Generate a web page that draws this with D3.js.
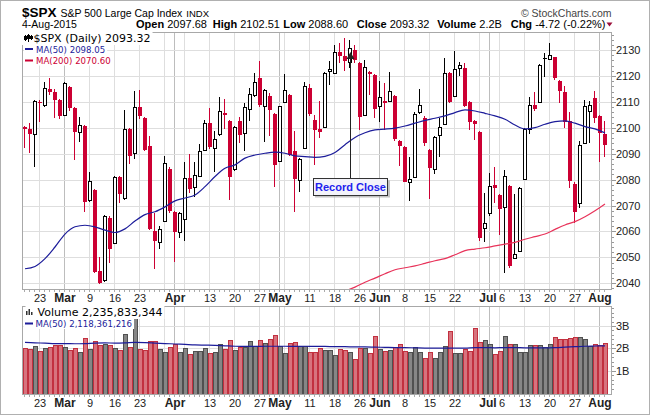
<!DOCTYPE html>
<html><head><meta charset="utf-8">
<script src="https://cdn.jsdelivr.net/npm/d3@7"></script>
<style>body{margin:0;background:#fff}svg{display:block}</style>
</head><body>
<svg id="c" width="650" height="415"></svg>
<script>
// ---------------- DATA ----------------
const openP  = [2100.2,2099.4,2097.5,2110.0,2108.9,2114.9,2114.0,2110.8,2105.0,2115.9,2107.6,2098.3,2100.8,2072.2,2076.1,2044.9,2041.3,2065.1,2055.4,2081.1,2072.8,2099.6,2090.2,2108.0,2103.7,2093.0,2060.0,2055.9,2063.9,2084.0,2067.6,2059.9,2064.7,2080.5,2077.0,2081.5,2091.5,2101.8,2092.1,2097.7,2105.6,2102.8,2084.0,2102.8,2098.2,2107.2,2112.5,2119.1,2108.5,2112.3,2105.4,2087.2,2109.9,2112.7,2091.1,2079.9,2092.1,2115.3,2102.9,2099.6,2100.2,2121.8,2121.1,2129.4,2127.8,2125.3,2130.1,2125.2,2105.0,2121.7,2120.4,2108.5,2110.5,2110.4,2112.3,2094.9,2092.5,2079.0,2080.9,2106.0,2103.7,2091.5,2084.0,2097.3,2101.5,2121.1,2112.3,2123.0,2123.0,2110.1,2102.8,2098.3,2061.2,2067.0,2078.0,2074.1,2069.3,2077.6,2049.7,2052.6,2080.2,2099.4,2108.8,2110.1,2126.8,2126.5,2127.2,2118.2,2114.0,2102.8,2078.4,2070.9,2094.3,2106.5,2111.4,2104.6,2097.68];
const highP  = [2100.9,2101.8,2110.7,2110.9,2117.8,2119.1,2115.0,2111.0,2117.7,2116.3,2108.0,2104.1,2101.2,2083.1,2076.5,2050.3,2066.4,2066.0,2081.5,2081.3,2106.9,2099.8,2114.2,2114.6,2104.0,2096.9,2067.0,2062.0,2089.1,2085.0,2068.0,2067.5,2086.7,2089.9,2086.7,2093.6,2103.1,2107.6,2098.6,2111.8,2111.2,2103.0,2100.8,2104.0,2109.7,2115.3,2121.1,2125.8,2115.0,2113.6,2105.6,2108.5,2120.8,2113.0,2098.6,2088.5,2117.6,2117.0,2105.1,2110.2,2121.5,2125.8,2131.8,2132.9,2134.6,2133.9,2132.0,2125.4,2126.2,2122.0,2120.6,2117.9,2117.3,2121.7,2112.6,2095.2,2093.0,2088.9,2106.0,2114.9,2104.5,2091.8,2097.0,2103.7,2126.8,2121.5,2129.8,2125.4,2125.0,2110.4,2103.0,2098.6,2074.7,2082.7,2085.0,2074.5,2083.7,2077.8,2074.3,2077.0,2099.8,2112.1,2114.0,2124.5,2128.9,2132.9,2127.5,2118.5,2116.0,2106.0,2079.0,2095.0,2110.8,2110.5,2114.4,2105.0,2102.51];
const lowP   = [2092.2,2090.4,2085.0,2102.4,2108.0,2112.5,2103.7,2103.5,2104.5,2106.5,2087.6,2094.7,2067.6,2071.5,2044.0,2039.6,2040.5,2047.7,2055.0,2071.0,2072.0,2086.0,2088.0,2103.5,2091.0,2060.5,2045.4,2053.1,2063.5,2067.0,2048.4,2057.4,2056.5,2075.0,2073.4,2081.0,2091.0,2091.8,2083.1,2097.0,2099.7,2072.2,2083.5,2094.0,2091.0,2102.8,2112.0,2108.0,2094.7,2096.9,2077.3,2087.0,2109.5,2089.0,2067.6,2075.1,2092.0,2104.5,2085.6,2096.0,2100.0,2116.5,2120.6,2125.0,2122.0,2123.0,2125.0,2099.2,2104.5,2112.5,2103.7,2102.4,2099.2,2110.0,2095.0,2085.3,2079.0,2071.8,2080.5,2105.5,2093.0,2072.5,2082.2,2088.9,2101.0,2109.5,2112.0,2119.9,2108.0,2099.0,2095.3,2056.5,2056.1,2066.0,2071.0,2058.6,2044.1,2046.0,2049.5,2052.0,2080.0,2097.6,2106.5,2110.0,2119.5,2126.0,2118.5,2109.7,2100.0,2076.7,2063.4,2069.0,2094.0,2094.1,2102.0,2087.0,2088.60];
const closeP = [2099.68,2097.45,2110.30,2109.66,2115.48,2113.86,2110.74,2104.50,2117.39,2107.78,2098.53,2101.04,2071.26,2079.43,2044.16,2040.24,2065.95,2053.40,2081.19,2074.28,2099.50,2089.27,2108.10,2104.42,2091.50,2061.05,2056.15,2061.02,2086.24,2067.89,2059.69,2066.96,2080.62,2076.33,2081.90,2091.18,2102.06,2092.43,2095.84,2106.63,2104.99,2081.18,2100.40,2097.29,2107.96,2112.93,2117.69,2108.92,2114.76,2106.85,2085.51,2108.29,2114.49,2089.46,2080.15,2088.00,2116.10,2105.33,2099.12,2098.48,2121.10,2122.73,2129.20,2127.83,2125.85,2130.82,2126.06,2104.20,2123.48,2120.79,2107.39,2111.73,2109.60,2114.07,2095.84,2092.83,2079.28,2080.15,2105.20,2108.86,2094.11,2084.43,2096.29,2100.44,2121.24,2109.99,2122.85,2124.20,2108.58,2102.31,2101.49,2057.64,2063.11,2077.42,2076.78,2068.76,2081.34,2046.68,2051.31,2076.62,2099.60,2108.95,2107.40,2124.29,2126.64,2128.28,2119.21,2114.15,2102.15,2079.65,2067.64,2093.25,2108.57,2108.63,2103.84,2098.04,2093.32];
const prevCloseBefore = 2100.34;
// volume, billions of shares
const volume = [2.01,1.98,2.11,1.89,2.02,2.07,2.16,2.16,2.07,1.93,2.01,1.84,2.47,1.98,2.33,2.16,2.22,2.14,2.02,1.93,2.64,2.07,3.37,1.98,1.93,2.32,2.32,1.98,1.83,2.07,2.20,1.83,2.01,1.74,1.89,1.89,2.01,1.80,1.83,2.19,1.98,2.38,1.93,2.08,2.07,2.33,2.11,2.38,2.24,2.44,2.60,2.13,1.79,2.23,2.27,2.11,2.11,1.84,1.84,2.01,1.92,1.92,1.70,1.96,1.92,1.83,1.53,2.04,2.02,1.79,2.56,1.96,1.89,1.92,2.08,2.21,1.89,1.86,2.05,1.83,1.58,1.83,1.58,1.83,2.10,2.76,1.79,1.79,1.96,1.89,2.91,2.27,2.38,2.19,1.74,1.90,2.56,2.20,2.20,1.83,1.83,2.14,2.16,2.16,2.05,2.20,2.50,2.43,2.43,2.48,2.50,2.53,2.40,2.10,2.20,2.16,2.236];
// moving averages read at every second session (index 0,2,4,...)
const ma50 = [2045.6,2046.5,2049.5,2054.0,2059.0,2061.8,2062.4,2061.8,2060.5,2059.6,2061.0,2064.0,2066.5,2067.6,2069.5,2071.8,2072.9,2074.1,2077.3,2081.2,2084.4,2085.7,2088.3,2089.5,2090.2,2090.6,2090.2,2089.2,2088.9,2088.6,2089.0,2090.5,2093.5,2096.3,2098.1,2099.2,2099.5,2099.9,2100.7,2101.8,2102.9,2103.7,2104.6,2105.9,2106.9,2106.5,2105.6,2104.6,2103.3,2101.1,2099.6,2100.1,2101.4,2102.4,2102.7,2101.8,2100.5,2099.6,2098.05];
const ma200Start = 64;
const ma200 = [2037.0,2038.5,2040.4,2042.0,2043.7,2045.2,2046.0,2046.7,2047.7,2048.7,2049.5,2051.0,2052.6,2053.2,2053.7,2054.4,2055.1,2055.8,2057.0,2058.0,2059.0,2060.8,2062.5,2063.8,2065.7,2068.0,2070.6];
const volMa50 = [2.27,2.25,2.24,2.22,2.22,2.21,2.22,2.24,2.25,2.24,2.25,2.27,2.26,2.24,2.22,2.20,2.18,2.16,2.15,2.14,2.12,2.10,2.09,2.09,2.10,2.10,2.10,2.09,2.10,2.09,2.09,2.08,2.08,2.07,2.07,2.06,2.05,2.04,2.04,2.03,2.02,2.02,2.02,2.02,2.02,2.04,2.04,2.03,2.04,2.04,2.03,2.03,2.03,2.04,2.06,2.08,2.10,2.11,2.118];
const volumeLastText = "2,235,833,344";
const volMaLastText = "2,118,361,216";
// x axis
const xTickIndex = [3,8,13,18,23,30,37,42,47,51,57,62,67,71,76,81,86,93,95,100,105,110,115];
const xTickLabel = ["23","Mar","9","16","23","Apr","13","20","27","May","11","18","26","Jun","8","15","22","Jul","6","13","20","27","Aug"];
const monthIndex = [8,30,51,71,93,115];
const extraGridIndex = [28,32,52,91];
const priceTicks = [2040,2050,2060,2070,2080,2090,2100,2110,2120,2130];
const volTicks = [1,2,3];
const volTickLabel = ["1B","2B","3B"];
const recordIndex = 65;

// ---------------- CHART ----------------
const svg = d3.select("#c");
const L = 22, R = 612, pT = 32, pB = 290, vT = 306, vB = 395;
const n = closeP.length;
const x = d3.scaleLinear().domain([0, n - 1]).range([25, 25 + 5 * (n - 1)]);
const y = d3.scaleLinear().domain([2037.4, 2137.0]).range([pB, pT]);
const yv = d3.scaleLinear().domain([-0.067, 3.889]).range([vB, vT]);
const RED = "#cc0033", NAVY = "#1c1c9a", FONT = "'Liberation Sans', Arial, sans-serif", LF = "'DejaVu Sans', Verdana, sans-serif";

svg.append("rect").attr("width", 650).attr("height", 415).attr("fill", "#fff");

const defs = svg.append("defs");
defs.append("clipPath").attr("id", "cp").append("rect").attr("x", L).attr("y", pT).attr("width", R - L).attr("height", pB - pT);
defs.append("clipPath").attr("id", "cv").append("rect").attr("x", L).attr("y", vT).attr("width", R - L).attr("height", vB - vT);

// gridlines
const gridIdx = xTickIndex.concat(extraGridIndex);
function vgrid(top, bot) {
  svg.append("g").selectAll("line").data(gridIdx).join("line")
    .attr("x1", d => x(d) - 0.5).attr("x2", d => x(d) - 0.5).attr("y1", top).attr("y2", bot)
    .attr("stroke", d => monthIndex.includes(d) ? "#bdbdbd" : "#dedede").attr("stroke-width", 1);
}
vgrid(pT, pB); vgrid(vT, vB);
svg.append("g").selectAll("line").data(priceTicks).join("line")
  .attr("x1", L).attr("x2", R).attr("y1", d => Math.round(y(d)) + 0.5).attr("y2", d => Math.round(y(d)) + 0.5)
  .attr("stroke", "#dedede");
svg.append("g").selectAll("line").data(volTicks).join("line")
  .attr("x1", L).attr("x2", R).attr("y1", d => Math.round(yv(d)) + 0.5).attr("y2", d => Math.round(yv(d)) + 0.5)
  .attr("stroke", "#dedede");

// candles
const up = closeP.map((c, i) => c >= (i === 0 ? prevCloseBefore : closeP[i - 1]));
const cg = svg.append("g").attr("clip-path", "url(#cp)").attr("shape-rendering", "crispEdges");
closeP.forEach((c, i) => {
  const cx = x(i), col = up[i] ? "#000" : RED;
  const o = openP[i];
  const yH = Math.round(y(highP[i])), yL = Math.round(y(lowP[i]));
  cg.append("rect").attr("x", cx - 1).attr("y", yH).attr("width", 1).attr("height", Math.max(1, yL - yH)).attr("fill", col);
  const yT = Math.round(y(Math.max(o, c))), yBt = Math.round(y(Math.min(o, c)));
  const h = Math.max(1, yBt - yT);
  if (c > o) {
    cg.append("rect").attr("x", cx - 2).attr("y", yT).attr("width", 4).attr("height", h + 1).attr("fill", col);
    if (h > 1) cg.append("rect").attr("x", cx - 1).attr("y", yT + 1).attr("width", 2).attr("height", h - 1).attr("fill", "#fff");
  } else {
    cg.append("rect").attr("x", cx - 2).attr("y", yT).attr("width", 4).attr("height", h).attr("fill", col);
  }
});

// moving averages
const line = d3.line().curve(d3.curveMonotoneX);
const mg = svg.append("g").attr("clip-path", "url(#cp)").attr("fill", "none");
mg.append("path").attr("d", line(ma200.map((v, k) => [x(ma200Start + 2 * k), y(v)])))
  .attr("stroke", "#e8335a").attr("stroke-width", 1.2);
mg.append("path").attr("d", line(ma50.map((v, k) => [x(2 * k), y(v)])))
  .attr("stroke", NAVY).attr("stroke-width", 1.2);

// volume bars
const vg = svg.append("g").attr("clip-path", "url(#cv)").attr("shape-rendering", "crispEdges");
volume.forEach((v, i) => {
  const cx = x(i), t = Math.round(yv(v));
  vg.append("rect").attr("x", cx - 2).attr("y", t).attr("width", 5).attr("height", vB - t).attr("fill", up[i] ? "#505050" : "#c2303f");
  vg.append("rect").attr("x", cx - 1).attr("y", t + 1).attr("width", 3).attr("height", vB - t - 1).attr("fill", up[i] ? "#868686" : "#d7737e");
});
svg.append("path").attr("clip-path", "url(#cv)").attr("fill", "none")
  .attr("d", line(volMa50.map((v, k) => [x(2 * k), yv(v)])))
  .attr("stroke", NAVY).attr("stroke-width", 1.2);

// frames
[[pT, pB], [vT, vB]].forEach(([t, b]) => {
  svg.append("rect").attr("x", L + 0.5).attr("y", t + 0.5).attr("width", R - L - 1).attr("height", b - t - 1)
    .attr("fill", "none").attr("stroke", "#a8a8a8");
});

// right axes
const ra = svg.append("g").attr("transform", `translate(${R},0)`);
d3.range(2038, 2137, 2).forEach(v => {
  const yy = Math.round(y(v)) + 0.5;
  ra.append("line").attr("x1", 0).attr("x2", v % 10 === 0 ? 4 : 2).attr("y1", yy).attr("y2", yy).attr("stroke", "#999");
});
ra.selectAll("text.p").data(priceTicks).join("text").attr("class", "p")
  .attr("x", 4).attr("y", d => y(d) + 4).text(d => d)
  .attr("font-family", FONT).attr("font-size", 11).attr("fill", "#222");
d3.range(0.2, 3.9, 0.2).forEach(v => {
  const yy = Math.round(yv(v)) + 0.5;
  ra.append("line").attr("x1", 0).attr("x2", Math.abs(v - Math.round(v)) < 0.01 ? 4 : 2).attr("y1", yy).attr("y2", yy).attr("stroke", "#999");
});
ra.selectAll("text.v").data(volTicks).join("text").attr("class", "v")
  .attr("x", 4).attr("y", d => yv(d) + 4).text((d, k) => volTickLabel[k])
  .attr("font-family", FONT).attr("font-size", 11).attr("fill", "#222");

// x axes (between panels and at bottom)
const nudge = { 93: -2, 95: 2 };
[302, 407].forEach(by => {
  const g = svg.append("g");
  g.selectAll("line").data(d3.range(n)).join("line")
    .attr("x1", d => x(d) - 0.5).attr("x2", d => x(d) - 0.5)
    .attr("y1", by === 302 ? pB : vB).attr("y2", (by === 302 ? pB : vB) + 2).attr("stroke", "#aaa");
  g.selectAll("text").data(xTickIndex).join("text")
    .attr("x", d => x(d) + (nudge[d] || 0)).attr("y", by).attr("text-anchor", "middle")
    .attr("font-family", FONT)
    .attr("font-size", d => monthIndex.includes(d) ? 12 : 11)
    .attr("font-weight", d => monthIndex.includes(d) ? "bold" : "normal")
    .attr("fill", "#222")
    .text((d, k) => xTickLabel[k]);
});

// header
const hd = svg.append("g").attr("font-family", FONT).attr("fill", "#000");
const t1 = hd.append("text").attr("x", 22).attr("y", 16.5);
t1.append("tspan").attr("font-weight", "bold").attr("font-size", 13.5).text("$SPX");
t1.append("tspan").attr("font-size", 10.5).attr("dx", 4).text("S&P 500 Large Cap Index");
t1.append("tspan").attr("font-size", 9.5).attr("dx", 4).text("INDX");
hd.append("text").attr("x", 22).attr("y", 28).attr("font-size", 10.5).text("4-Aug-2015");
const last = n - 1;
const hdItems = [["Open", openP[last].toFixed(2), 136], ["High", highP[last].toFixed(2), 212.7], ["Low", lowP[last].toFixed(2), 283.3],
  ["Close", closeP[last].toFixed(2), 356.7], ["Volume", (volume[last]).toFixed(1) + "B", 437.3],
  ["Chg", (closeP[last] - closeP[last - 1]).toFixed(2) + " (" + ((closeP[last] / closeP[last - 1] - 1) * 100).toFixed(2) + "%)", 510.7]];
hdItems.forEach(([lab, val, xx]) => {
  const t = hd.append("text").attr("x", xx).attr("y", 28).attr("font-size", 11);
  t.append("tspan").attr("font-weight", "bold").text(lab);
  t.append("tspan").text(" " + val);
});
hd.append("path").attr("d", "M606.5,22.5 L612.5,22.5 L609.5,26.5 Z").attr("fill", "#9b0f3a");
hd.append("text").attr("x", 611.5).attr("y", 16.5).attr("text-anchor", "end").attr("font-size", 10.5).attr("fill", "#444").text("© StockCharts.com");

// legends
function legendRow(g, xx, yy, txt, size, color) {
  const t = g.append("text").attr("x", xx).attr("y", yy).attr("font-family", LF).attr("font-size", size).attr("fill", color).text(txt);
  const bb = t.node().getBBox();
  g.insert("rect", "text").attr("x", bb.x - 12).attr("y", bb.y).attr("width", bb.width + 14).attr("height", bb.height).attr("fill", "#fff");
  return t;
}
const lg = svg.append("g");
legendRow(lg, 33.5, 42, "$SPX (Daily) " + closeP[last].toFixed(2), 11, "#000");
legendRow(lg, 36, 52.5, "MA(50) " + ma50[ma50.length - 1].toFixed(2), 8.6, NAVY);
legendRow(lg, 36, 63.5, "MA(200) " + ma200[ma200.length - 1].toFixed(2), 8.6, RED);
const ic = lg.append("g").attr("shape-rendering", "crispEdges");
[[25, 35, 41, 36, 40], [28, 34, 42, 35, 39], [31, 35, 40, 36, 39]].forEach(([cx, a, b, c, d]) => {
  ic.append("rect").attr("x", cx).attr("y", a).attr("width", 1).attr("height", b - a).attr("fill", "#000");
  ic.append("rect").attr("x", cx - 1).attr("y", c).attr("width", 3).attr("height", d - c).attr("fill", "#000");
});
lg.append("rect").attr("x", 25).attr("y", 48).attr("width", 8).attr("height", 2).attr("fill", NAVY);
lg.append("rect").attr("x", 25).attr("y", 59.5).attr("width", 8).attr("height", 2).attr("fill", RED);

const vlg = svg.append("g");
legendRow(vlg, 37.5, 316, "Volume " + volumeLastText, 11, "#000");
legendRow(vlg, 35.5, 327, "MA(50) " + volMaLastText, 8.6, NAVY);
[[26, 311, 315], [28.5, 309, 315], [31, 312, 315]].forEach(([xx, a, b]) =>
  vlg.append("rect").attr("x", xx).attr("y", a).attr("width", 1.5).attr("height", b - a).attr("fill", "#333"));
vlg.append("rect").attr("x", 25).attr("y", 322.5).attr("width", 8).attr("height", 2).attr("fill", NAVY);

// record close annotation
const ax = x(recordIndex) + 0.5, ay = y(highP[recordIndex]) + 12;
const an = svg.append("g");
an.append("line").attr("x1", ax).attr("x2", ax).attr("y1", ay + 6).attr("y2", 178).attr("stroke", "#222").attr("stroke-width", 1);
an.append("path").attr("d", `M${ax},${ay} L${ax - 4},${ay + 7} L${ax + 4},${ay + 7} Z`).attr("fill", "#222");
an.append("rect").attr("x", 315).attr("y", 180.5).attr("width", 75).attr("height", 17).attr("fill", "#9a9a9a").attr("opacity", 0.6);
an.append("rect").attr("x", 313.5).attr("y", 178.5).attr("width", 74).attr("height", 17).attr("fill", "#f3f3fa").attr("stroke", "#333");
an.append("text").attr("x", 350.5).attr("y", 191.2).attr("text-anchor", "middle").attr("font-family", FONT)
  .attr("font-size", 11).attr("font-weight", "bold").attr("fill", "#2222ee").text("Record Close");

// outer border
svg.append("rect").attr("x", 0.5).attr("y", 0.5).attr("width", 649).attr("height", 414).attr("fill", "none").attr("stroke", "#b0b0b0");
</script>
</body></html>
